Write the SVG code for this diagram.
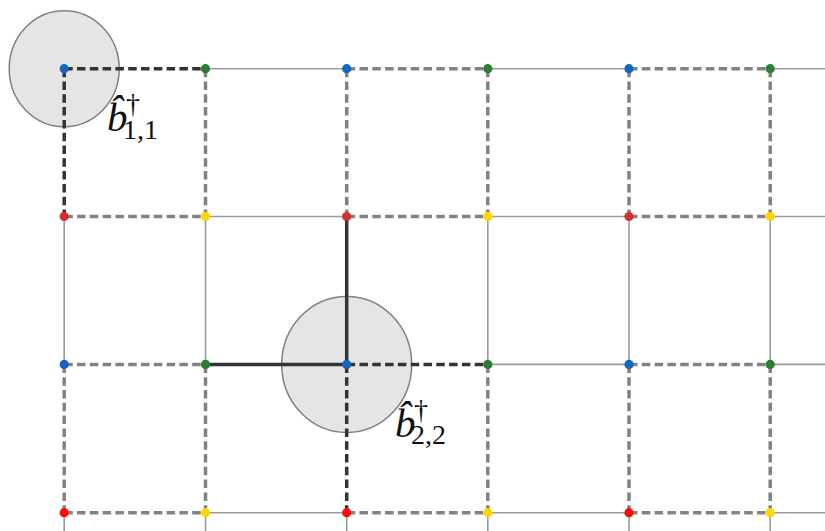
<svg xmlns="http://www.w3.org/2000/svg" width="825" height="531" viewBox="0 0 825 531">
<style>
.thin{stroke:#9a9a9a;stroke-width:1.6;fill:none}
.dash{stroke:#828282;stroke-width:3.5;stroke-dasharray:8.5 4.3;fill:none}
.ddash{stroke:#333;stroke-width:3.5;stroke-dasharray:8.5 4.3;fill:none}
.dsolid{stroke:#333;stroke-width:3.5;fill:none}
.blob{fill:#e5e5e5;stroke:#808080;stroke-width:1.5}
.g{fill:#2e7d32}.r{fill:#d32f2f}.rr{fill:#ff0a0a}.y{fill:#ffd600}.bl{fill:#1565c0}
.lbl{font-family:"Liberation Serif",serif;fill:#111}
</style>
<g id="regions">
<ellipse class="blob" cx="64.2" cy="68.7" rx="55" ry="58"/>
<ellipse class="blob" cx="346.7" cy="364.4" rx="65" ry="68"/>
</g>
<g id="connectors">
<line class="ddash" x1="64.2" y1="68.7" x2="205.5" y2="68.7"/>
<line class="thin" x1="205.5" y1="68.7" x2="346.7" y2="68.7"/>
<line class="dash" x1="346.7" y1="68.7" x2="487.8" y2="68.7"/>
<line class="thin" x1="487.8" y1="68.7" x2="629" y2="68.7"/>
<line class="dash" x1="629" y1="68.7" x2="770.2" y2="68.7"/>
<line class="thin" x1="770.2" y1="68.7" x2="825" y2="68.7"/>
<line class="dash" x1="64.2" y1="216.5" x2="205.5" y2="216.5"/>
<line class="thin" x1="205.5" y1="216.5" x2="346.7" y2="216.5"/>
<line class="dash" x1="346.7" y1="216.5" x2="487.8" y2="216.5"/>
<line class="thin" x1="487.8" y1="216.5" x2="629" y2="216.5"/>
<line class="dash" x1="629" y1="216.5" x2="770.2" y2="216.5"/>
<line class="thin" x1="770.2" y1="216.5" x2="825" y2="216.5"/>
<line class="dash" x1="64.2" y1="364.4" x2="205.5" y2="364.4"/>
<line class="dsolid" x1="205.5" y1="364.4" x2="346.7" y2="364.4"/>
<line class="ddash" x1="346.7" y1="364.4" x2="487.8" y2="364.4"/>
<line class="thin" x1="487.8" y1="364.4" x2="629" y2="364.4"/>
<line class="dash" x1="629" y1="364.4" x2="770.2" y2="364.4"/>
<line class="thin" x1="770.2" y1="364.4" x2="825" y2="364.4"/>
<line class="dash" x1="64.2" y1="512.7" x2="205.5" y2="512.7"/>
<line class="thin" x1="205.5" y1="512.7" x2="346.7" y2="512.7"/>
<line class="dash" x1="346.7" y1="512.7" x2="487.8" y2="512.7"/>
<line class="thin" x1="487.8" y1="512.7" x2="629" y2="512.7"/>
<line class="dash" x1="629" y1="512.7" x2="770.2" y2="512.7"/>
<line class="thin" x1="770.2" y1="512.7" x2="825" y2="512.7"/>
<line class="ddash" x1="64.2" y1="68.7" x2="64.2" y2="216.5"/>
<line class="thin" x1="64.2" y1="216.5" x2="64.2" y2="364.4"/>
<line class="dash" x1="64.2" y1="364.4" x2="64.2" y2="512.7"/>
<line class="thin" x1="64.2" y1="512.7" x2="64.2" y2="531"/>
<line class="dash" x1="205.5" y1="68.7" x2="205.5" y2="216.5"/>
<line class="thin" x1="205.5" y1="216.5" x2="205.5" y2="364.4"/>
<line class="dash" x1="205.5" y1="364.4" x2="205.5" y2="512.7"/>
<line class="thin" x1="205.5" y1="512.7" x2="205.5" y2="531"/>
<line class="dash" x1="346.7" y1="68.7" x2="346.7" y2="216.5"/>
<line class="dsolid" x1="346.7" y1="216.5" x2="346.7" y2="364.4"/>
<line class="ddash" x1="346.7" y1="364.4" x2="346.7" y2="512.7"/>
<line class="thin" x1="346.7" y1="512.7" x2="346.7" y2="531"/>
<line class="dash" x1="487.8" y1="68.7" x2="487.8" y2="216.5"/>
<line class="thin" x1="487.8" y1="216.5" x2="487.8" y2="364.4"/>
<line class="dash" x1="487.8" y1="364.4" x2="487.8" y2="512.7"/>
<line class="thin" x1="487.8" y1="512.7" x2="487.8" y2="531"/>
<line class="dash" x1="629" y1="68.7" x2="629" y2="216.5"/>
<line class="thin" x1="629" y1="216.5" x2="629" y2="364.4"/>
<line class="dash" x1="629" y1="364.4" x2="629" y2="512.7"/>
<line class="thin" x1="629" y1="512.7" x2="629" y2="531"/>
<line class="dash" x1="770.2" y1="68.7" x2="770.2" y2="216.5"/>
<line class="thin" x1="770.2" y1="216.5" x2="770.2" y2="364.4"/>
<line class="dash" x1="770.2" y1="364.4" x2="770.2" y2="512.7"/>
<line class="thin" x1="770.2" y1="512.7" x2="770.2" y2="531"/>
</g>
<g id="nodes">
<g id="n00"><circle class="bl" cx="64.2" cy="68.7" r="4.6"/></g>
<g id="n01"><circle class="g" cx="205.5" cy="68.7" r="4.6"/></g>
<g id="n02"><circle class="bl" cx="346.7" cy="68.7" r="4.6"/></g>
<g id="n03"><circle class="g" cx="487.8" cy="68.7" r="4.6"/></g>
<g id="n04"><circle class="bl" cx="629" cy="68.7" r="4.6"/></g>
<g id="n05"><circle class="g" cx="770.2" cy="68.7" r="4.6"/></g>
<g id="n10"><circle class="r" cx="64.2" cy="216.5" r="4.6"/></g>
<g id="n11"><circle class="y" cx="205.5" cy="216.5" r="4.6"/></g>
<g id="n12"><circle class="r" cx="346.7" cy="216.5" r="4.6"/></g>
<g id="n13"><circle class="y" cx="487.8" cy="216.5" r="4.6"/></g>
<g id="n14"><circle class="r" cx="629" cy="216.5" r="4.6"/></g>
<g id="n15"><circle class="y" cx="770.2" cy="216.5" r="4.6"/></g>
<g id="n20"><circle class="bl" cx="64.2" cy="364.4" r="4.6"/></g>
<g id="n21"><circle class="g" cx="205.5" cy="364.4" r="4.6"/></g>
<g id="n22"><circle class="bl" cx="346.7" cy="364.4" r="4.6"/></g>
<g id="n23"><circle class="g" cx="487.8" cy="364.4" r="4.6"/></g>
<g id="n24"><circle class="bl" cx="629" cy="364.4" r="4.6"/></g>
<g id="n25"><circle class="g" cx="770.2" cy="364.4" r="4.6"/></g>
<g id="n30"><circle class="rr" cx="64.2" cy="512.7" r="4.6"/></g>
<g id="n31"><circle class="y" cx="205.5" cy="512.7" r="4.6"/></g>
<g id="n32"><circle class="rr" cx="346.7" cy="512.7" r="4.6"/></g>
<g id="n33"><circle class="y" cx="487.8" cy="512.7" r="4.6"/></g>
<g id="n34"><circle class="rr" cx="629" cy="512.7" r="4.6"/></g>
<g id="n35"><circle class="y" cx="770.2" cy="512.7" r="4.6"/></g>
</g>
<g id="label1">
<text class="lbl"><tspan x="107" y="131" font-size="41" font-style="italic">b̂</tspan><tspan x="126" y="113" font-size="28">†</tspan><tspan x="123" y="138.5" font-size="28">1,1</tspan></text>
</g>
<g id="label2">
<text class="lbl"><tspan x="395" y="437" font-size="41" font-style="italic">b̂</tspan><tspan x="414" y="419" font-size="28">†</tspan><tspan x="411" y="443.5" font-size="28">2,2</tspan></text>
</g>
</svg>
